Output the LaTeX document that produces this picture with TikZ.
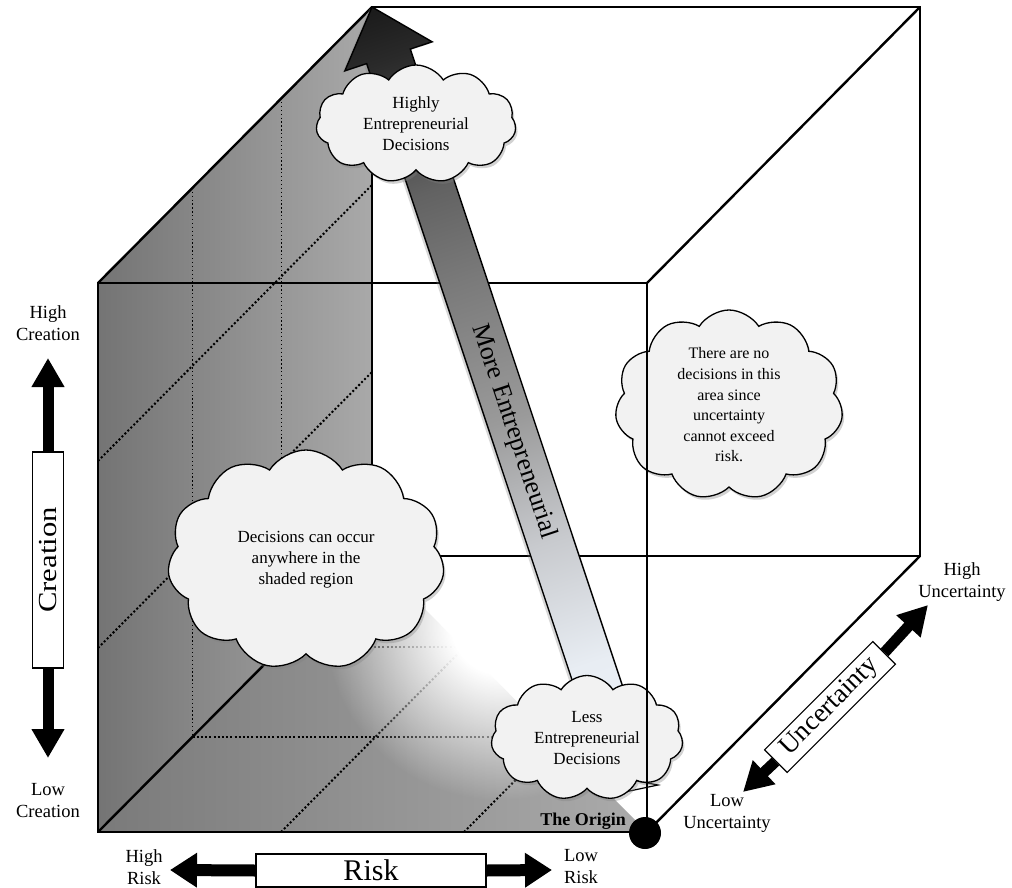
\documentclass[tikz,border=0pt]{standalone}
\usepackage{fontspec}
\setmainfont{Liberation Serif}
\usetikzlibrary{shapes.symbols,shadows,arrows.meta,fadings,calc}
\definecolor{cloudfill}{HTML}{F2F2F2}
\definecolor{wallL}{HTML}{747474}
\definecolor{wallR}{HTML}{A9A9A9}
\definecolor{floorL}{HTML}{7A7A7A}
\definecolor{floorR}{HTML}{ABABAB}
\definecolor{bandTop}{HTML}{1A1A1A}
\definecolor{bandB7}{HTML}{2A2A2A}
\definecolor{bandB6}{HTML}{626262}
\definecolor{bandB5}{HTML}{7A7A7A}
\definecolor{bandB4}{HTML}{9A9A9A}
\definecolor{bandB3}{HTML}{C8CACE}
\definecolor{bandB2}{HTML}{E8EDF3}
\definecolor{bandBot}{HTML}{EEF3FA}
\pgfdeclareverticalshading{bandshade}{100bp}{color(0bp)=(bandBot); color(25bp)=(bandBot); color(32bp)=(bandB2); color(40bp)=(bandB3); color(48bp)=(bandB4); color(57bp)=(bandB5); color(63bp)=(bandB6); color(71.5bp)=(bandB7); color(75bp)=(bandTop); color(100bp)=(bandTop)}
\pgfdeclareradialshading{glowshading}{\pgfpointorigin}{color(0bp)=(white); color(7bp)=(white); color(25bp)=(black); color(50bp)=(black)}
\pgfdeclarefading{glowfade}{\pgfuseshading{glowshading}}
\tikzset{
  edge3d/.style={line width=2.4pt, line cap=round, line join=round},
  dotline/.style={line width=2pt, dash pattern=on 2pt off 2.2pt},
  thindot/.style={line width=1.3pt, dash pattern=on 1.3pt off 2.6pt},
  cloudnote/.style={cloud, cloud puffs=11, cloud puff arc=115, cloud ignores aspect, draw=black, line width=1.3pt, fill=cloudfill, align=center, inner sep=0pt, drop shadow={opacity=0.35, shadow xshift=2pt, shadow yshift=-3pt}, font=\fontsize{17}{21}\selectfont},
  axisbox/.style={draw=black, line width=1.2pt, fill=white, inner sep=0pt},
  axisarrow/.style={line width=11pt, -{Triangle[length=29pt, width=31pt]}},
  axislabel/.style={align=center, font=\fontsize{18.5}{22}\selectfont, inner sep=0pt},
}
\begin{document}
\begin{tikzpicture}[x=1pt, y=-1pt]
\useasboundingbox (0,0) rectangle (1012,888);
\fill[white] (0,0) rectangle (1012,888);
% shaded region: wall and floor
\shade[left color=wallL, right color=wallR] (98,283) -- (372,7) -- (372,556) -- (98,832) -- cycle;
\shade[left color=floorL, right color=floorR] (98,832) -- (372,556) -- (647,832) -- cycle;
% grid lines
\draw[thindot] (192.5,187.8) -- (192.5,736.8);
\draw[thindot] (281.6,98.1) -- (281.6,647.1);
\draw[dotline] (98,648) -- (372,372);
\draw[dotline] (98,461) -- (372,185);
\draw[dotline] (192.5,736.8) -- (552,736.8);
\draw[dotline] (281.6,647.1) -- (462.7,647.1);
\draw[dotline] (281,832) -- (463.7,648);
\draw[dotline] (464,832) -- (555.3,740);
% white glow
\fill[white, path fading=glowfade, fit fading=true] (500,625) circle[radius=175pt];
% cube
\draw[edge3d] (372,7) rectangle (920,556);
\draw[edge3d] (98,283) -- (372,7);
\draw[edge3d] (647,283) -- (920,7);
\draw[edge3d] (647,832) -- (920,556);
\draw[edge3d] (98,832) -- (372,556);
\draw[edge3d] (98,283) rectangle (647,832);
% big arrow
\begin{scope}[transform canvas={shift={(626.4,770.3)}, rotate=18.43}]
\shadedraw[shading=bandshade, draw=black, line width=1.4pt, line join=miter, drop shadow={opacity=0.3, shadow xshift=-3pt, shadow yshift=-1pt}]
  (-23pt,0pt) -- (23pt,0pt) -- (23pt,752.6pt) -- (46pt,752.6pt) -- (0pt,804.6pt) -- (-46pt,752.6pt) -- (-23pt,752.6pt) -- cycle;
\end{scope}
\node[rotate=-71.57, font=\fontsize{26}{30}\selectfont, inner sep=0pt] (moreent) at (513.7,432) {More Entrepreneurial};
% clouds
\node[cloudnote, minimum width=200pt, minimum height=118pt] (highly) at (416,124) {Highly\\Entrepreneurial\\Decisions};
\node[cloudnote, minimum width=277pt, minimum height=220pt] (occur) at (306,560) {Decisions can occur\\anywhere in the\\shaded region};
\node[cloudnote, minimum width=228pt, minimum height=190pt, font=\fontsize{16}{20.6}\selectfont] (nodec) at (729,405) {There are no\\decisions in this\\area since\\uncertainty\\cannot exceed\\risk.};
\filldraw[fill=cloudfill, draw=black, line width=1.2pt, line join=miter] (606,796) -- (658,785) -- (632,780) -- cycle;
\node[cloudnote, minimum width=192pt, minimum height=125pt] (less) at (587,738) {Less\\Entrepreneurial\\Decisions};
% front edge over clouds
\draw[edge3d] (647,283) -- (647,832);
% origin
\node[anchor=base, font=\bfseries\fontsize{18}{20}\selectfont, inner sep=0pt] (origintext) at (583,825) {The Origin};
\node[circle, fill=black, minimum size=32pt, inner sep=0pt] (origin) at (645,833) {};
% creation axis
\node[axisbox, rotate=90, minimum width=216pt, minimum height=31pt, font=\fontsize{26}{28}\selectfont] (cbox) at (48,560) {\scalebox{1.18}[1]{Creation}};
\coordinate (chigh) at (48,358);
\coordinate (clow) at (48,758);
\draw[axisarrow] (cbox.east) -- (chigh);
\draw[axisarrow] (cbox.west) -- (clow);
\node[axislabel] (chighlbl) at (48,323) {High\\Creation};
\node[axislabel] (clowlbl) at (48,801) {Low\\Creation};
% risk axis
\node[axisbox, minimum width=230pt, minimum height=33pt, font=\fontsize{30}{32}\selectfont] (rbox) at (371,870.5) {Risk};
\coordinate (rhigh) at (170,870);
\coordinate (rlow) at (552,870);
\draw[axisarrow, -{Triangle[length=27pt, width=33pt]}, line width=12pt] (rbox.west) -- (rhigh);
\draw[axisarrow, -{Triangle[length=27pt, width=33pt]}, line width=12pt] (rbox.east) -- (rlow);
\node[axislabel] (rhighlbl) at (144,867) {High\\Risk};
\node[axislabel] (rlowlbl) at (581,867) {Low\\Risk};
% uncertainty axis
\node[axisbox, rotate=45, minimum width=153pt, minimum height=32pt, font=\fontsize{27}{29}\selectfont] (ubox) at (830,707) {Uncertainty};
\coordinate (uhigh) at (928,605);
\coordinate (ulow) at (743,792);
\draw[axisarrow] (ubox.east) -- (uhigh);
\draw[axisarrow] (ubox.west) -- (ulow);
\node[axislabel] (uhighlbl) at (962,582) {High\\Uncertainty};
\node[axislabel] (ulowlbl) at (727,813) {Low\\Uncertainty};
\end{tikzpicture}
\end{document}
